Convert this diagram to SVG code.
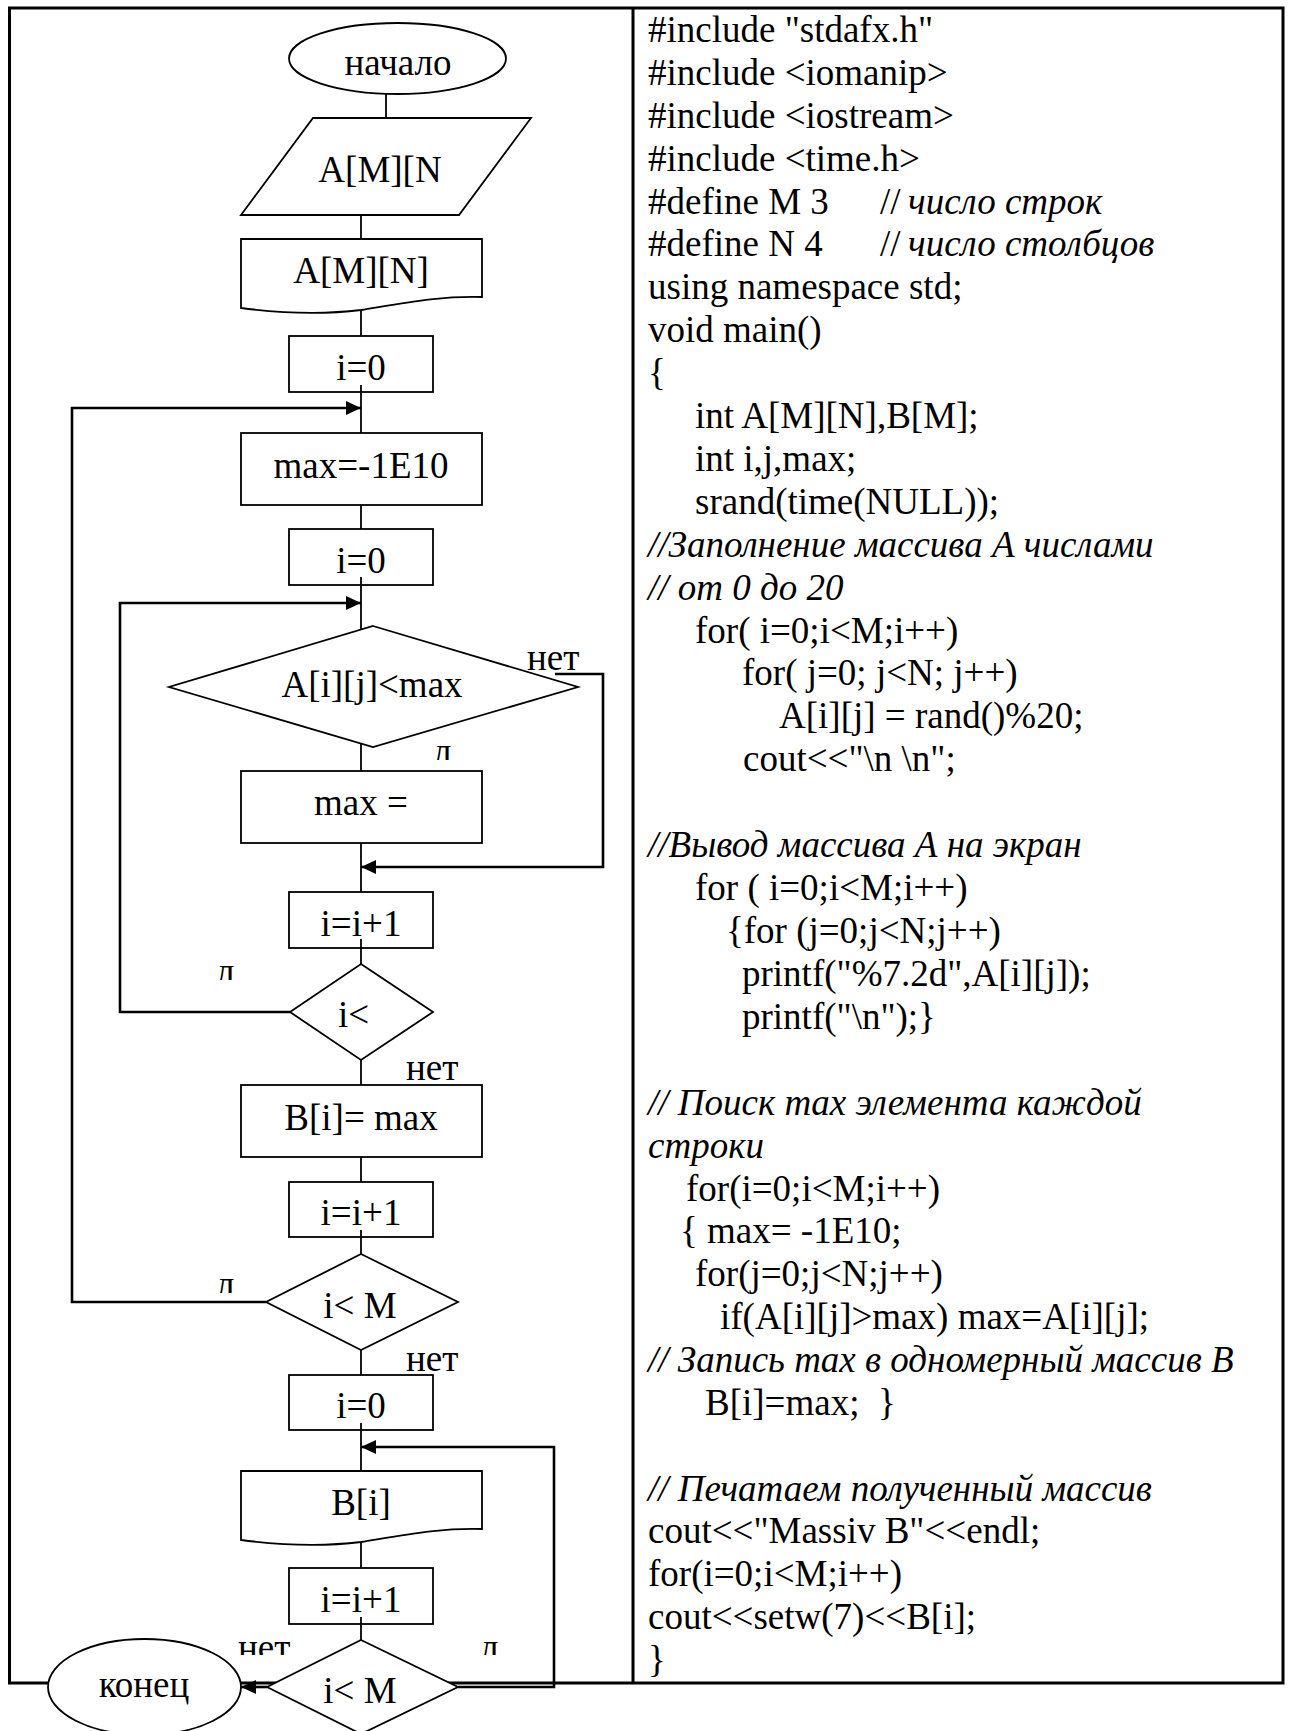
<svg xmlns="http://www.w3.org/2000/svg" width="1290" height="1731" viewBox="0 0 1290 1731">
  <style>
    text { font-family: "Liberation Serif", "Times New Roman", serif; font-size: 37px; fill: #000; white-space: pre; }
    .c { text-anchor: middle; }
    .it { font-style: italic; }
    .shape { fill: #fff; stroke: #000; stroke-width: 1.8; }
    .link { fill: none; stroke: #000; stroke-width: 1.8; }
    .loop { fill: none; stroke: #000; stroke-width: 2.6; }
    .frame { fill: none; stroke: #000; stroke-width: 3; }
  </style>
  <defs>
    <marker id="ah" viewBox="0 0 15 14" refX="15" refY="7" markerWidth="15" markerHeight="14" markerUnits="userSpaceOnUse" orient="auto">
      <path d="M0,0 L15,7 L0,14 Z" fill="#000"/>
    </marker>
    <clipPath id="cl1" clipPathUnits="userSpaceOnUse"><rect x="420" y="700" width="60" height="60"/></clipPath>
    <clipPath id="cl2" clipPathUnits="userSpaceOnUse"><rect x="200" y="920" width="60" height="60"/></clipPath>
    <clipPath id="cl3" clipPathUnits="userSpaceOnUse"><rect x="200" y="1233" width="60" height="60"/></clipPath>
    <clipPath id="cl4" clipPathUnits="userSpaceOnUse"><rect x="220" y="1600" width="300" height="55"/></clipPath>
  </defs>

  <!-- table frame: two cells, flowchart on the left, listing on the right -->
  <g id="frame">
    <rect class="frame" x="9.5" y="8" width="1273.5" height="1675"/>
    <line class="frame" x1="633" y1="8" x2="633" y2="1683"/>
  </g>

  <!-- flowchart nodes -->
  <g id="start">
    <ellipse class="shape" cx="397.5" cy="58.5" rx="108.5" ry="35.5"/>
    <text class="c" x="398" y="75">начало</text>
  </g>
  <g id="input-A">
    <path class="shape" d="M313,118 L531,118 L459,215 L241,215 Z"/>
    <text class="c" x="380" y="182">A[M][N</text>
  </g>
  <g id="print-A">
    <path class="shape" d="M241,239 H482 V297 C440,296 410,302 361,310 C320,315 280,313 241,308 Z"/>
    <text class="c" x="361" y="283">A[M][N]</text>
  </g>
  <g id="init-i">
    <rect class="shape" x="289" y="336" width="144" height="56"/>
    <text class="c" x="361" y="380">i=0</text>
  </g>
  <g id="init-max">
    <rect class="shape" x="241" y="433" width="241" height="72"/>
    <text class="c" x="361" y="478">max=-1E10</text>
  </g>
  <g id="init-j">
    <rect class="shape" x="289" y="529" width="144" height="56"/>
    <text class="c" x="361" y="573">i=0</text>
  </g>
  <g id="cmp">
    <path class="shape" d="M373,626 L578,687 L373,747 L169,687 Z"/>
    <text class="c" x="372" y="697">A[i][j]&lt;max</text>
  </g>
  <g id="set-max">
    <rect class="shape" x="241" y="771" width="241" height="72"/>
    <text class="c" x="361" y="815">max =</text>
  </g>
  <g id="inc-j">
    <rect class="shape" x="289" y="892" width="144" height="56"/>
    <text class="c" x="361" y="936">i=i+1</text>
  </g>
  <g id="test-j">
    <path class="shape" d="M361,964 L433,1012 L361,1060 L290,1012 Z"/>
    <text x="338" y="1027">i&lt;</text>
  </g>
  <g id="store-B">
    <rect class="shape" x="241" y="1085" width="241" height="72"/>
    <text class="c" x="361" y="1130">B[i]= max</text>
  </g>
  <g id="inc-i">
    <rect class="shape" x="289" y="1182" width="144" height="55"/>
    <text class="c" x="361" y="1225">i=i+1</text>
  </g>
  <g id="test-i">
    <path class="shape" d="M361,1254 L458,1302 L361,1350 L266,1302 Z"/>
    <text class="c" x="360" y="1318">i&lt; M</text>
  </g>
  <g id="reset-i">
    <rect class="shape" x="289" y="1375" width="144" height="55"/>
    <text class="c" x="361" y="1418">i=0</text>
  </g>
  <g id="print-B">
    <path class="shape" d="M241,1471 H482 V1529 C440,1528 410,1534 361,1542 C320,1547 280,1545 241,1540 Z"/>
    <text class="c" x="361" y="1515">B[i]</text>
  </g>
  <g id="inc-i2">
    <rect class="shape" x="289" y="1568" width="144" height="56"/>
    <text class="c" x="361" y="1612">i=i+1</text>
  </g>
  <g id="test-i2">
    <path class="shape" d="M361,1640 L458,1687 L361,1734 L267,1687 Z"/>
    <text class="c" x="360" y="1703">i&lt; M</text>
  </g>
  <g id="end">
    <ellipse class="shape" cx="144.5" cy="1687" rx="96.5" ry="48"/>
    <text class="c" x="144" y="1697">конец</text>
  </g>

  <!-- connectors -->
  <g id="connectors">
    <line class="link" x1="386" y1="94" x2="386" y2="118"/>
    <line class="link" x1="361" y1="215" x2="361" y2="239"/>
    <line class="link" x1="361" y1="311" x2="361" y2="336"/>
    <line class="link" x1="361" y1="385" x2="361" y2="433"/>
    <line class="link" x1="361" y1="505" x2="361" y2="529"/>
    <line class="link" x1="361" y1="577" x2="361" y2="629"/>
    <line class="link" x1="361" y1="744" x2="361" y2="771"/>
    <line class="link" x1="361" y1="843" x2="361" y2="892"/>
    <line class="link" x1="361" y1="939" x2="361" y2="964"/>
    <line class="link" x1="361" y1="1060" x2="361" y2="1085"/>
    <line class="link" x1="361" y1="1157" x2="361" y2="1182"/>
    <line class="link" x1="361" y1="1230" x2="361" y2="1254"/>
    <line class="link" x1="361" y1="1350" x2="361" y2="1375"/>
    <line class="link" x1="361" y1="1423" x2="361" y2="1471"/>
    <line class="link" x1="361" y1="1543" x2="361" y2="1568"/>
    <line class="link" x1="361" y1="1617" x2="361" y2="1640"/>

    <polyline class="loop" points="266,1302 72,1302 72,408 361,408" marker-end="url(#ah)"/>
    <polyline class="loop" points="290,1012 120,1012 120,603 361,603" marker-end="url(#ah)"/>
    <polyline class="loop" points="555,674 603,674 603,867 361,867" marker-end="url(#ah)"/>
    <polyline class="loop" points="458,1687 554,1687 554,1447 361,1447" marker-end="url(#ah)"/>
    <line class="loop" x1="267" y1="1687" x2="241" y2="1687" marker-end="url(#ah)"/>
  </g>

  <!-- branch labels -->
  <g id="labels">
    <text x="527" y="670">нет</text>
    <text x="433" y="764" clip-path="url(#cl1)">л</text>
    <text x="216" y="984" clip-path="url(#cl2)">л</text>
    <text x="406" y="1080">нет</text>
    <text x="216" y="1297" clip-path="url(#cl3)">л</text>
    <text x="406" y="1371">нет</text>
    <text x="238" y="1660" clip-path="url(#cl4)">нет</text>
    <text x="480" y="1660" clip-path="url(#cl4)">л</text>
  </g>

  <!-- program listing -->
  <g id="listing">
    <text x="648" y="42">#include "stdafx.h"</text>
    <text x="648" y="85">#include &lt;iomanip&gt;</text>
    <text x="648" y="128">#include &lt;iostream&gt;</text>
    <text x="648" y="171">#include &lt;time.h&gt;</text>
    <text x="648" y="214">#define M 3<tspan x="880">//</tspan><tspan x="908" class="it">число строк</tspan></text>
    <text x="648" y="256">#define N 4<tspan x="880">//</tspan><tspan x="908" class="it">число столбцов</tspan></text>
    <text x="648" y="299">using namespace std;</text>
    <text x="648" y="342">void main()</text>
    <text x="648" y="385">{</text>
    <text x="695" y="428">int A[M][N],B[M];</text>
    <text x="695" y="471">int i,j,max;</text>
    <text x="695" y="514">srand(time(NULL));</text>
    <text x="648" y="557" class="it">//Заполнение массива А числами</text>
    <text x="648" y="600" class="it">// от 0 до 20</text>
    <text x="695" y="643">for( i=0;i&lt;M;i++)</text>
    <text x="742" y="685">for( j=0; j&lt;N; j++)</text>
    <text x="779" y="728">A[i][j] = rand()%20;</text>
    <text x="743" y="771">cout&lt;&lt;"\n \n";</text>
    <text x="648" y="857" class="it">//Вывод массива А на экран</text>
    <text x="695" y="900">for ( i=0;i&lt;M;i++)</text>
    <text x="726" y="943">{for (j=0;j&lt;N;j++)</text>
    <text x="742" y="986">printf("%7.2d",A[i][j]);</text>
    <text x="742" y="1029">printf("\n");}</text>
    <text x="648" y="1115" class="it">// Поиск max элемента каждой</text>
    <text x="648" y="1158" class="it">строки</text>
    <text x="686" y="1201">for(i=0;i&lt;M;i++)</text>
    <text x="680" y="1243">{ max= -1E10;</text>
    <text x="695" y="1286">for(j=0;j&lt;N;j++)</text>
    <text x="720" y="1329">if(A[i][j]&gt;max) max=A[i][j];</text>
    <text x="648" y="1372" class="it">// Запись max в одномерный массив B</text>
    <text x="705" y="1415">B[i]=max;  }</text>
    <text x="648" y="1501" class="it">// Печатаем полученный массив</text>
    <text x="648" y="1543">cout&lt;&lt;"Massiv B"&lt;&lt;endl;</text>
    <text x="648" y="1586">for(i=0;i&lt;M;i++)</text>
    <text x="648" y="1629">cout&lt;&lt;setw(7)&lt;&lt;B[i];</text>
    <text x="648" y="1672">}</text>
  </g>
</svg>
